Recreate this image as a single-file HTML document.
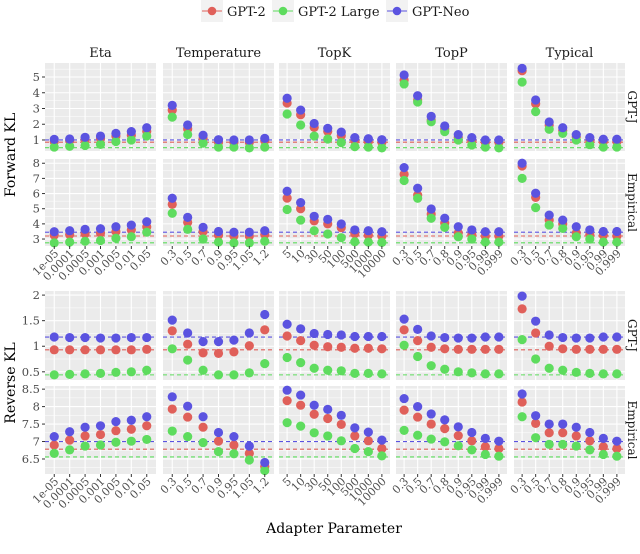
<!DOCTYPE html>
<html><head><meta charset="utf-8"><style>
body{margin:0;background:#fff}
svg{display:block;font-family:"DejaVu Serif","Liberation Serif",serif}
</style></head><body>
<svg id="chart" width="640" height="554" viewBox="0 0 640 554" xmlns="http://www.w3.org/2000/svg"></svg>
<script>
const methods = ["Eta","Temperature","TopK","TopP","Typical"];
const catEta = ["1e-05","0.0001","0.0005","0.001","0.005","0.01","0.05"];
const catTemp = ["0.3","0.5","0.7","0.9","0.95","1.05","1.2"];
const catTopK = ["5","10","30","50","100","500","1000","10000"];
const catTopP = ["0.3","0.5","0.7","0.8","0.9","0.95","0.99","0.999"];
const catTypical = ["0.3","0.5","0.7","0.8","0.9","0.95","0.99","0.999"];
const models = ["GPT-2","GPT-2 Large","GPT-Neo"];
const rowLabels = ["GPT-J","Empirical","GPT-J","Empirical"];
const rowTicks = [[1,2,3,4,5],[3,4,5,6,7,8],[0.5,1,1.5,2],[6.5,7,7.5,8,8.5]];
const rowTickLabels = [["1","2","3","4","5"],["3","4","5","6","7","8"],["0.5","1","1.5","2"],["6.5","7","7.5","8","8.5"]];
const rowMinor = [[0.5,1.5,2.5,3.5,4.5,5.5],[3.5,4.5,5.5,6.5,7.5],[0.75,1.25,1.75],[6.25,6.75,7.25,7.75,8.25]];
const rowDomain = [[0.30,5.89],[2.54,8.28],[0.34,2.08],[6.07,8.59]];
// baselines per row: GPT-2, GPT-2 Large, GPT-Neo
const baseFwdGptj = [0.86,0.51,1.0];
const baseFwdEmp = [3.2,2.75,3.45];
const baseRevGptj = [0.93,0.44,1.18];
const baseRevEmp = [6.78,6.56,7.0];
// Forward KL, GPT-J
const fwdGptjGpt2 = [[0.9,0.95,1.05,1.1,1.25,1.3,1.55],[2.9,1.7,1.1,0.85,0.85,0.85,0.95],[3.35,2.6,1.8,1.55,1.27,0.95,0.9,0.85],[4.81,3.54,2.27,1.68,1.15,0.95,0.85,0.85],[5.4,3.3,1.95,1.6,1.2,1.0,0.9,0.9]];
const fwdGptjLarge = [[0.55,0.6,0.65,0.72,0.9,1.0,1.25],[2.45,1.35,0.8,0.55,0.55,0.5,0.55],[2.65,1.95,1.25,1.06,0.83,0.58,0.55,0.5],[4.56,3.41,2.16,1.53,1.0,0.68,0.55,0.5],[4.68,2.8,1.68,1.42,1.0,0.7,0.55,0.55]];
const fwdGptjNeo = [[1.04,1.06,1.17,1.25,1.42,1.53,1.78],[3.2,1.95,1.3,1.02,1.0,1.0,1.1],[3.65,2.9,2.05,1.74,1.5,1.15,1.08,1.02],[5.13,3.81,2.5,1.89,1.34,1.15,1.0,1.0],[5.55,3.54,2.14,1.78,1.34,1.15,1.05,1.05]];
// Forward KL, Empirical
const fwdEmpGpt2 = [[3.25,3.3,3.35,3.4,3.5,3.6,3.8],[5.29,4.1,3.5,3.25,3.2,3.2,3.3],[5.7,5.0,4.2,4.0,3.75,3.35,3.25,3.2],[7.27,5.9,4.65,4.05,3.4,3.3,3.2,3.2],[7.82,5.75,4.25,4.0,3.4,3.3,3.25,3.2]];
const fwdEmpLarge = [[2.75,2.8,2.85,2.9,3.05,3.15,3.45],[4.7,3.64,3.0,2.8,2.75,2.75,2.85],[4.95,4.25,3.55,3.33,3.09,2.82,2.8,2.78],[6.86,5.69,4.37,3.77,3.15,3.0,2.8,2.8],[7.0,5.07,3.92,3.7,3.15,3.0,2.8,2.8]];
const fwdEmpNeo = [[3.48,3.55,3.64,3.68,3.81,3.92,4.14],[5.69,4.43,3.77,3.5,3.45,3.45,3.55],[6.15,5.4,4.5,4.3,3.99,3.6,3.55,3.48],[7.71,6.35,4.98,4.37,3.81,3.6,3.48,3.48],[8.0,6.02,4.58,4.25,3.81,3.6,3.5,3.5]];
// Reverse KL, GPT-J
const revGptjGpt2 = [[0.93,0.93,0.93,0.93,0.93,0.93,0.94],[1.3,1.04,0.87,0.86,0.89,1.01,1.32],[1.2,1.11,1.02,0.99,0.98,0.96,0.96,0.95],[1.32,1.11,0.98,0.95,0.94,0.94,0.94,0.94],[1.73,1.26,1.0,0.95,0.94,0.94,0.94,0.94]];
const revGptjLarge = [[0.44,0.45,0.46,0.47,0.49,0.5,0.53],[0.95,0.73,0.53,0.44,0.44,0.48,0.66],[0.78,0.68,0.57,0.53,0.52,0.47,0.47,0.46],[1.02,0.8,0.62,0.55,0.5,0.48,0.46,0.46],[1.13,0.75,0.57,0.53,0.49,0.47,0.46,0.46]];
const revGptjNeo = [[1.18,1.17,1.17,1.16,1.16,1.17,1.17],[1.51,1.26,1.09,1.09,1.12,1.26,1.62],[1.43,1.34,1.25,1.23,1.22,1.19,1.19,1.19],[1.53,1.33,1.2,1.17,1.16,1.16,1.18,1.18],[1.98,1.49,1.22,1.17,1.16,1.16,1.18,1.18]];
// Reverse KL, Empirical
const revEmpGpt2 = [[6.9,7.04,7.16,7.2,7.31,7.35,7.45],[7.93,7.7,7.41,7.01,6.9,6.66,6.28],[8.17,8.04,7.78,7.66,7.49,7.16,7.02,6.8],[7.9,7.7,7.5,7.37,7.17,7.02,6.85,6.8],[8.13,7.52,7.25,7.25,7.16,7.02,6.85,6.8]];
const revEmpLarge = [[6.66,6.76,6.87,6.9,6.98,7.01,7.06],[7.3,7.14,6.97,6.71,6.65,6.47,6.17],[7.54,7.44,7.25,7.16,7.02,6.8,6.71,6.59],[7.32,7.18,7.07,6.99,6.88,6.76,6.63,6.58],[7.71,7.11,6.92,6.92,6.87,6.76,6.63,6.58]];
const revEmpNeo = [[7.14,7.28,7.41,7.45,7.57,7.61,7.71],[8.28,8.01,7.71,7.26,7.14,6.87,6.4],[8.47,8.33,8.04,7.92,7.75,7.39,7.27,7.04],[8.23,8.0,7.79,7.62,7.42,7.26,7.09,7.01],[8.36,7.74,7.5,7.5,7.41,7.26,7.09,7.01]];

const cats = [catEta,catTemp,catTopK,catTopP,catTypical];
const rowData = [[fwdGptjGpt2,fwdGptjLarge,fwdGptjNeo],[fwdEmpGpt2,fwdEmpLarge,fwdEmpNeo],[revGptjGpt2,revGptjLarge,revGptjNeo],[revEmpGpt2,revEmpLarge,revEmpNeo]];
const rowBase = [baseFwdGptj,baseFwdEmp,baseRevGptj,baseRevEmp];

const colors = ["#E0605A","#5EDC5E","#5B53E0"];
const colX = [45,163,279,396,514], panelW = 111;
const rowY = [[63,151],[159,246],[291,380],[386,474]];
const NS = "http://www.w3.org/2000/svg";
const svg = document.getElementById("chart");
function mk(tag, attrs, parent, text){
  const e = document.createElementNS(NS, tag);
  for (const k in attrs) e.setAttribute(k, attrs[k]);
  if (text !== undefined) e.textContent = text;
  (parent||svg).appendChild(e);
  return e;
}
function yScale(r, v){
  const [d0,d1] = rowDomain[r], [top,bot] = rowY[r];
  return bot - (v-d0)/(d1-d0)*(bot-top);
}
function xScale(c, i){
  const n = cats[c].length;
  return colX[c] + (i+1-0.4)/(n+0.2)*panelW;
}

// legend
const leg = mk("g",{});


const legX = [201,272,386], legTX = [227,298,412];
models.forEach((m,k)=>{
  const g = mk("g",{},leg);
  
  
  mk("rect",{x:legX[k],y:0,width:22,height:22,fill:"#f2f2f2"},g);
  mk("line",{x1:legX[k]+1,x2:legX[k]+21,y1:11,y2:11,stroke:colors[k],"stroke-width":1},g);
  mk("circle",{cx:legX[k]+11,cy:11,r:4.3,fill:colors[k]},g);
  mk("text",{x:legTX[k],y:16,"font-size":13,fill:"#1a1a1a"},g,m);
});

for (let r=0;r<4;r++){
  const [top,bot] = rowY[r];
  // y ticks
  const ya = mk("g",{});
  
  
  rowTicks[r].forEach((t,i)=>{
    const y = yScale(r,t);
    mk("line",{x1:42,x2:45,y1:y,y2:y,stroke:"#333","stroke-width":1},ya);
    mk("text",{x:40,y:y+4,"text-anchor":"end","font-size":11.5,fill:"#4d4d4d"},ya,rowTickLabels[r][i]);
  });
  // row strip
  const sy=(top+bot)/2;
  const st = mk("text",{x:632,y:sy,"text-anchor":"middle","font-size":12,fill:"#1a1a1a",transform:"rotate(90 632 "+sy+")",dy:"0.35em"},svg,rowLabels[r]);
  
  
  for (let c=0;c<5;c++){
    const p = mk("g",{});
    
    
    mk("rect",{x:colX[c],y:top,width:panelW,height:bot-top,fill:"#ebebeb"},p);
    rowMinor[r].forEach(t=>{
      const y=yScale(r,t); if(y<top||y>bot) return;
      mk("line",{x1:colX[c],x2:colX[c]+panelW,y1:y,y2:y,stroke:"#fff","stroke-width":0.5},p);
    });
    rowTicks[r].forEach(t=>{
      const y=yScale(r,t);
      mk("line",{x1:colX[c],x2:colX[c]+panelW,y1:y,y2:y,stroke:"#fff","stroke-width":1.1},p);
    });
    cats[c].forEach((lab,i)=>{
      const x=xScale(c,i);
      mk("line",{x1:x,x2:x,y1:top,y2:bot,stroke:"#fff","stroke-width":1.1},p);
    });
    // baselines
    rowBase[r].forEach((b,k)=>{
      const y=yScale(r,b);
      const l=mk("line",{x1:colX[c],x2:colX[c]+panelW,y1:y,y2:y,stroke:colors[k],"stroke-width":1.1,"stroke-dasharray":"4,3"},p);
      
      
    });
    // points
    for (let k=0;k<3;k++){
      rowData[r][k][c].forEach((v,i)=>{
        const pt=mk("circle",{cx:xScale(c,i),cy:yScale(r,v),r:4.6,fill:colors[k]},p);
        
        
      });
    }
    // x ticks on rows 2 and 4
    if (r===1||r===3){
      const xa = mk("g",{});
      
      
      cats[c].forEach((lab,i)=>{
        const x=xScale(c,i);
        mk("line",{x1:x,x2:x,y1:bot,y2:bot+3,stroke:"#333","stroke-width":1},xa);
        mk("text",{x:0,y:0,"text-anchor":"end","font-size":11,fill:"#4d4d4d",transform:"translate("+(x+5)+","+(bot+8)+") rotate(-45)"},xa,lab);
      });
    }
  }
}
// column strips
methods.forEach((m,c)=>{
  const t=mk("text",{x:colX[c]+panelW/2,y:57,"text-anchor":"middle","font-size":13,fill:"#1a1a1a"},svg,m);
  
  
});
const t1=mk("text",{x:0,y:0,"text-anchor":"middle","font-size":14,fill:"#000",transform:"translate(15,155) rotate(-90)"},svg,"Forward KL");


const t2=mk("text",{x:0,y:0,"text-anchor":"middle","font-size":14,fill:"#000",transform:"translate(15,383) rotate(-90)"},svg,"Reverse KL");


const t3=mk("text",{x:334,y:533,"text-anchor":"middle","font-size":14,fill:"#000"},svg,"Adapter Parameter");


</script>
</body></html>
